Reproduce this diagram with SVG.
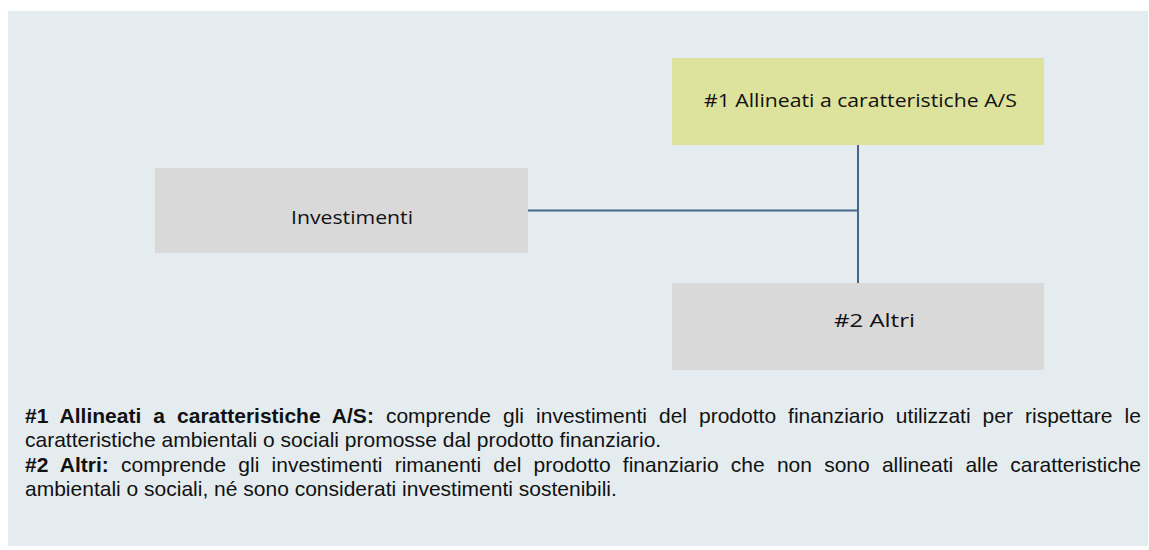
<svg xmlns="http://www.w3.org/2000/svg" width="1149" height="550" viewBox="0 0 1149 550">
  <style>
    .box-grey { fill: #D9D9D9; }
    .box-lime { fill: #DDE29D; }
    .label { font-family: "Open Sans", "Noto Sans", sans-serif; font-size: 19px; fill: #111111; }
    .conn { stroke: #46648C; stroke-width: 2; fill: none; }
    .note { font-family: "Liberation Sans", Arial, sans-serif; font-size: 21px; fill: #111111; }
    .b { font-weight: bold; }
  </style>
  <rect x="8" y="11" width="1140" height="535" fill="#E4ECF0"/>

  <g id="connectors">
    <line class="conn" x1="528" y1="210.5" x2="858" y2="210.5"/>
    <line class="conn" x1="858" y1="145" x2="858" y2="283"/>
  </g>

  <g id="node-investimenti">
    <rect class="box-grey" x="155" y="168" width="373" height="85"/>
    <text class="label" x="291" y="224" textLength="122" lengthAdjust="spacingAndGlyphs">Investimenti</text>
  </g>

  <g id="node-allineati">
    <rect class="box-lime" x="672" y="58" width="372" height="87"/>
    <text class="label" x="704" y="107" textLength="313" lengthAdjust="spacingAndGlyphs">#1 Allineati a caratteristiche A/S</text>
  </g>

  <g id="node-altri">
    <rect class="box-grey" x="672" y="283" width="372" height="87"/>
    <text class="label" x="834" y="327" textLength="81" lengthAdjust="spacingAndGlyphs">#2 Altri</text>
  </g>

  <g id="legend">
    <text class="note" x="25" y="422.5" style="word-spacing:6.2px"><tspan class="b">#1 Allineati a caratteristiche A/S:</tspan> comprende gli investimenti del prodotto finanziario utilizzati per rispettare le</text>
    <text class="note" x="25" y="447">caratteristiche ambientali o sociali promosse dal prodotto finanziario.</text>
    <text class="note" x="25" y="471.5" style="word-spacing:6.4px"><tspan class="b">#2 Altri:</tspan> comprende gli investimenti rimanenti del prodotto finanziario che non sono allineati alle caratteristiche</text>
    <text class="note" x="25" y="496">ambientali o sociali, né sono considerati investimenti sostenibili.</text>
  </g>
</svg>
